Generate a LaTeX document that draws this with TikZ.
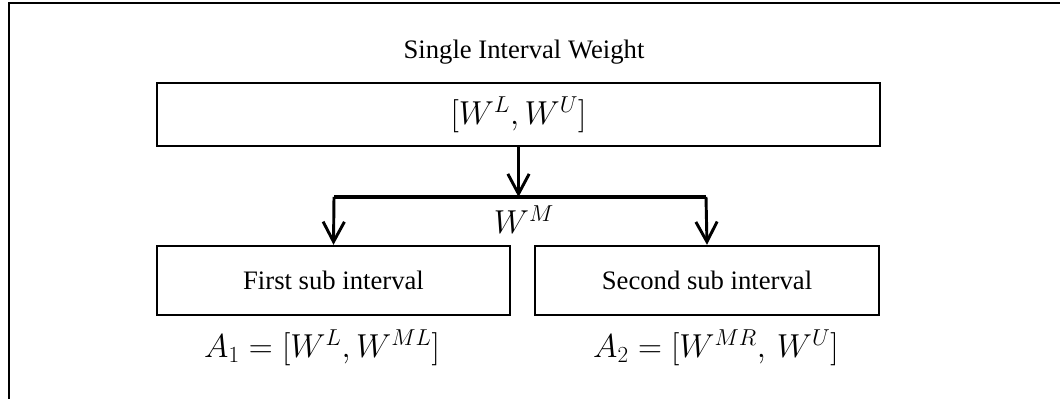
\documentclass[tikz,border=0pt]{standalone}
\usepackage{amsmath}
\usepackage{fontspec}
\setmainfont{Liberation Serif}
\usepackage{tikz}
\usetikzlibrary{positioning, arrows.meta}

\tikzset{
  wbox/.style={draw, line width=1.5pt, inner sep=0pt, font=\fontsize{20}{24}\selectfont},
  wmath/.style={font=\fontsize{24}{28}\selectfont},
  wflow/.style={line width=2.2pt, -{Straight Barb[length=15pt, width=16pt, line width=2.2pt]}},
}

\begin{document}
\begin{tikzpicture}[x=0.75pt, y=-0.75pt]
        \useasboundingbox (0,0) rectangle (1060,399);
        % outer frame (cut at right and bottom)
        \draw[line width=2.2pt] (1060,3) -- (9,3) -- (9,399);
        \node[font=\fontsize{20}{24}\selectfont] (title) at (524,52) {Single Interval Weight};
        \node[wbox, wmath, minimum width=542pt, minimum height=47pt] (single) at (518.5,114.5) {$[W^L, W^U]$};
        \node[wbox, minimum width=265pt, minimum height=52pt] (first) at (333.5,280.5) {First sub interval};
        \node[wbox, minimum width=258pt, minimum height=52pt] (second) at (707,280.5) {Second sub interval};
        \coordinate (barL) at (334,197);
        \coordinate (barR) at (706,197);
        \draw[line width=2.5pt] (barL) -- (barR);
        \draw[wflow] (single.south) -- (single.south |- barL);
        \draw[wflow] (barL) -- (first.north);
        \draw[wflow] (barR) -- (second.north);
        \node[wmath] (mid) at (524,220) {$W^M$};
        \node[wmath] (aone) at (322,348) {$A_1 = [W^L, W^{ML}]$};
        \node[wmath] (atwo) at (716,348) {$A_2 = [W^{MR},\, W^U]$};
      \end{tikzpicture}
\end{document}
